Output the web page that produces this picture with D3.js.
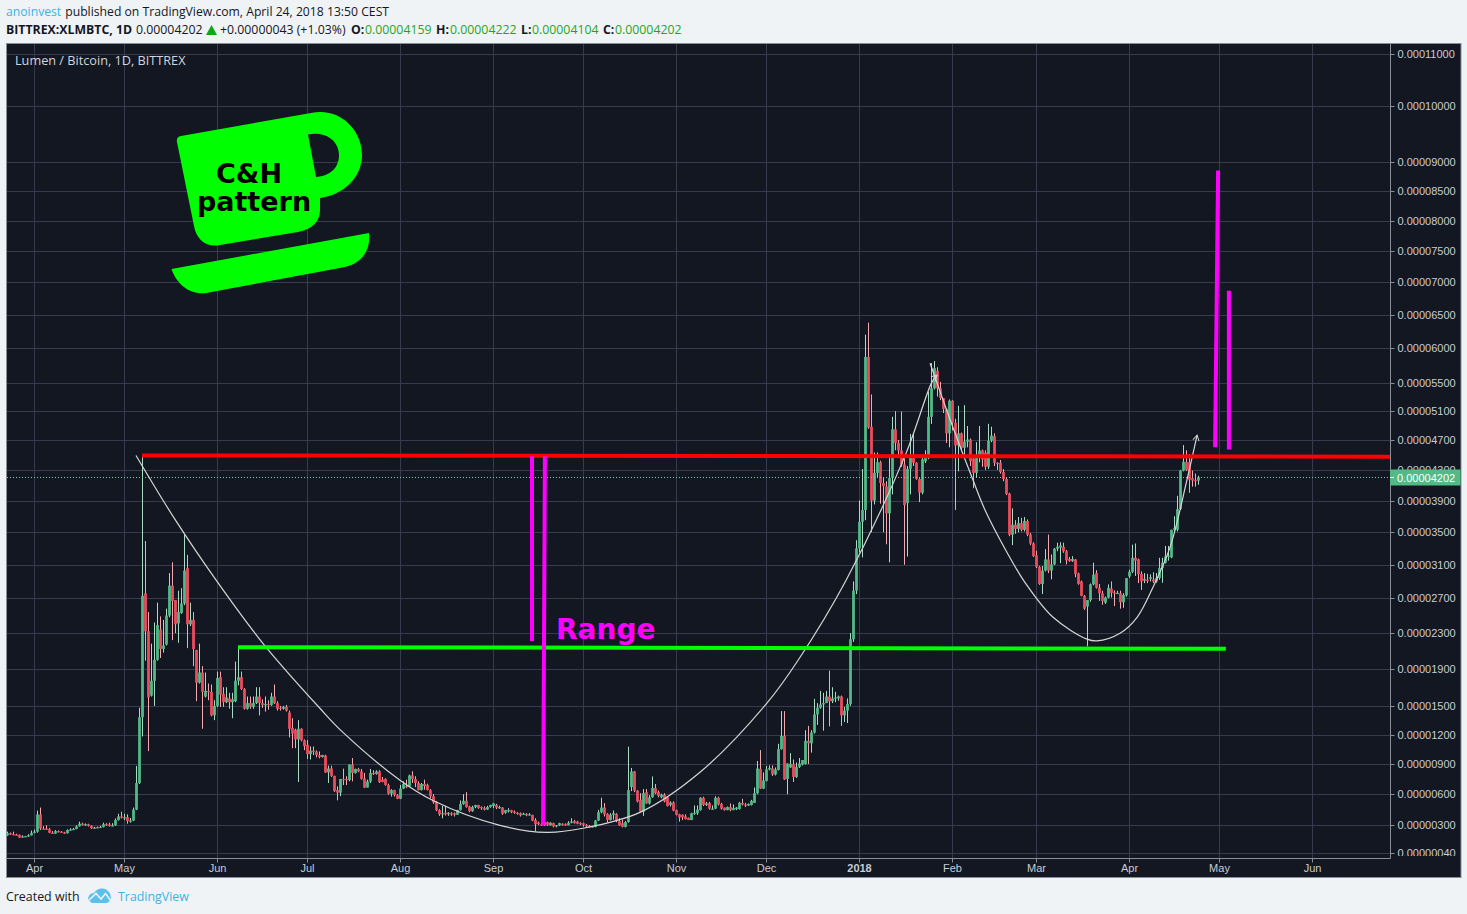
<!DOCTYPE html>
<html>
<head>
<meta charset="utf-8">
<title>Lumen / Bitcoin, 1D, BITTREX</title>
<script src="https://cdn.jsdelivr.net/npm/d3@7/dist/d3.min.js"></script>
<style>
html,body{margin:0;padding:0;background:#f0f3f6;overflow:hidden}
svg{display:block}
</style>
</head>
<body>
<svg id="chart" width="1467" height="914"></svg>
<script>
// prices in units of 0.00000001 BTC, one entry per daily bar from 2017-03-23
const opens = [
205,225,218,212,210,185,195,197,205,228,
240,403,270,268,262,230,222,245,240,232,
225,255,260,265,290,315,305,310,295,272,
278,282,285,310,308,295,300,350,385,375,
378,340,345,450,710,1380,2760,2320,1610,1770,
2000,2340,2120,2170,2500,2850,2680,2410,2530,2640,
3060,2400,2450,2110,1750,1860,1600,1660,1650,1400,
1500,1810,1630,1540,1580,1540,1550,1770,1810,1680,
1470,1530,1490,1530,1600,1530,1515,1520,1510,1600,
1530,1480,1470,1490,1430,1270,1250,1150,1260,1140,
1095,1000,1035,1025,990,970,985,815,855,780,
640,615,750,750,740,895,810,850,825,755,
665,725,810,800,825,745,750,690,605,640,
590,555,655,680,675,785,750,710,640,700,
690,640,580,525,445,405,420,405,415,415,
400,445,505,535,480,435,475,495,475,465,
450,475,485,495,465,470,420,440,445,430,
420,415,405,410,400,400,350,325,310,300,
330,300,320,290,300,315,310,300,325,340,
335,320,320,305,295,290,285,345,425,470,
410,350,400,410,340,320,285,330,670,825,
635,545,430,620,510,570,660,620,570,595,
570,495,520,445,405,400,385,370,350,415,
415,445,565,495,515,455,460,565,505,470,
445,475,445,455,455,515,500,490,495,515,
610,850,655,730,845,855,795,840,1050,1185,
750,865,900,770,870,895,900,1135,1110,1220,
1410,1480,1515,1530,1600,1550,1580,1580,1600,1400,
1450,1520,2230,2790,3300,3630,3780,5870,4880,3900,
4260,4400,4127,4082,3737,4193,4845,4660,4558,4370,
3870,4313,4460,4393,4180,4002,4415,4460,5017,5417,
5667,5417,5280,5128,4790,5242,4935,4625,4790,4593,
4677,4705,4450,4260,4460,4558,4527,4340,4690,4750,
4393,4393,4270,4180,3990,3468,3592,3542,3613,3530,
3640,3470,3360,3215,3075,2870,3030,3165,3030,3105,
3295,3310,3320,3265,3170,3145,3165,2995,2900,2730,
2605,2680,2865,3000,2825,2760,2650,2710,2815,2770,
2760,2760,2655,2735,2960,3015,3185,3165,2990,2910,
2920,2930,2925,2900,2940,3060,3125,3200,3190,3530,
3530,3790,4290,4405,4400,4190,4165,4159];
const highs = [
240,232,240,220,212,205,200,215,250,260,
440,470,290,300,275,245,255,252,245,238,
262,272,275,300,335,325,318,315,300,285,
288,295,325,320,325,320,365,410,430,410,
405,370,470,880,1480,4500,3390,2540,2180,2420,
2650,2490,2450,2580,3000,3130,2680,2790,2820,3470,
3220,2650,2540,2110,2180,1930,1860,1740,1730,1560,
1870,1870,1700,1700,1640,1640,1980,2130,1870,1690,
1600,1600,1600,1700,1700,1570,1600,1560,1640,1730,
1550,1500,1500,1510,1450,1370,1260,1350,1265,1150,
1143,1077,1077,1037,1027,993,993,883,883,783,
677,750,853,777,895,960,853,860,850,810,
743,850,837,837,837,770,757,703,650,643,
600,690,727,743,793,827,777,727,710,743,
703,650,600,535,455,487,487,426,426,423,
448,539,600,620,487,487,497,497,481,481,
487,497,513,506,487,474,448,464,448,442,
426,423,420,416,416,400,367,335,325,332,
335,329,325,303,325,319,319,339,367,351,
342,329,325,313,303,294,351,448,565,513,
416,416,442,416,367,351,340,1075,860,830,
640,610,650,650,590,775,700,635,605,610,
575,530,530,450,410,405,405,375,420,490,
490,570,575,525,525,490,580,575,515,470,
480,510,500,475,525,555,515,510,545,665,
930,1040,815,880,885,885,865,1105,1445,1445,
905,1010,945,915,960,940,1245,1290,1245,1575,
1530,1660,1640,1660,1880,1700,1650,1610,1610,1490,
1580,2300,2900,3400,3900,4310,6200,6380,5330,4530,
4530,4420,4200,4150,4460,5017,5095,4700,5090,4450,
4350,4780,4790,4400,4190,4500,4560,5370,5780,5810,
5720,5510,5280,5130,5260,5250,4990,5170,4800,5180,
4890,4720,4480,4670,4890,4570,4560,4920,4880,4790,
4400,4430,4310,4200,4000,3800,3650,3690,3680,3690,
3660,3490,3375,3270,3085,3085,3290,3470,3225,3305,
3370,3375,3370,3280,3195,3205,3170,3005,2910,2740,
2680,2875,3125,3035,2870,2790,2720,2865,2900,2795,
2790,2790,2760,2940,3040,3345,3360,3175,3020,3000,
2990,2985,3010,3000,3185,3185,3330,3330,3530,3700,
3960,4300,4630,4560,4510,4290,4250,4222];
const lows = [
200,210,205,205,180,183,190,190,203,225,
230,255,260,255,225,218,220,232,228,220,
222,250,255,262,288,298,295,288,265,268,
272,278,280,295,288,290,295,345,365,350,
315,325,340,445,700,1180,1990,1030,1600,1500,
1990,2020,2080,2160,2480,2220,2300,2190,2520,2620,
2130,2380,1930,1550,1740,1260,1590,1560,1390,1350,
1490,1490,1490,1530,1470,1370,1540,1720,1670,1460,
1460,1470,1470,1520,1400,1480,1440,1460,1500,1520,
1450,1450,1460,1440,1170,1060,1060,720,1130,1040,
950,945,990,967,957,965,810,710,770,623,
540,580,690,690,727,727,803,817,743,660,
665,710,790,793,710,717,683,594,577,577,
552,552,650,660,670,710,670,637,637,643,
637,561,506,435,390,367,393,390,390,384,
400,442,497,468,426,429,464,458,448,442,
448,468,464,455,458,400,410,423,416,410,
400,384,400,387,393,339,245,303,294,294,
294,297,281,281,294,297,294,300,319,316,
310,303,287,281,277,277,281,342,416,384,
329,345,355,329,294,280,280,325,630,620,
520,430,390,505,500,565,600,570,560,520,
480,480,435,395,335,350,355,350,350,400,
400,440,485,485,450,450,455,490,450,440,
445,435,445,445,450,490,475,485,490,515,
600,650,650,725,835,780,785,835,1045,740,
600,860,720,760,860,885,895,900,1015,1210,
1300,1470,1240,1530,1285,1530,1540,1555,1290,1330,
1320,1500,2200,2750,3250,3190,3650,4850,3500,3850,
4200,3860,3500,3350,3130,3980,4560,4500,4340,3100,
3200,3980,4350,4170,3880,3980,4390,4440,4920,5400,
5300,5250,5070,4660,4600,4830,3780,4280,4560,4500,
4600,4350,4060,4200,4400,4340,4300,4310,4670,4350,
4300,4250,4150,3970,3450,3340,3480,3500,3510,3510,
3450,3340,3195,3060,2860,2750,3020,3000,2925,3095,
3265,3120,3245,3105,3135,3135,2950,2860,2725,2565,
2150,2660,2855,2815,2670,2625,2635,2700,2710,2610,
2750,2580,2590,2720,2940,3000,2965,2880,2800,2880,
2880,2900,2880,2885,2920,2885,3115,3150,3180,3510,
3510,3780,4280,4285,4000,4080,4080,4104];
const closes = [
225,218,212,210,185,195,197,205,228,240,
403,270,268,262,230,222,245,240,232,225,
255,260,265,290,315,305,310,295,272,278,
282,285,310,308,295,300,350,385,375,378,
340,345,450,710,1380,2730,2320,1590,1770,2000,
2390,2120,2160,2500,2850,2670,2400,2540,2640,3030,
2400,2450,2120,1750,1860,1650,1660,1650,1400,1500,
1800,1620,1540,1590,1540,1570,1770,1810,1680,1470,
1530,1490,1530,1600,1530,1510,1520,1510,1600,1530,
1470,1470,1490,1450,1260,1210,1150,1260,1140,1080,
1000,1035,1025,990,970,990,815,855,780,630,
615,750,745,745,895,810,850,825,750,665,
725,810,800,825,720,720,690,605,640,590,
555,655,700,670,785,750,710,640,700,680,
640,580,520,445,405,415,405,420,405,400,
445,505,535,475,435,475,495,465,465,450,
475,495,510,470,475,410,445,445,425,420,
410,395,412,395,405,345,310,310,300,330,
305,325,290,300,320,305,300,325,335,320,
315,310,305,290,280,282,345,425,470,405,
350,400,415,340,300,285,330,640,825,635,
530,430,610,510,570,660,610,585,595,530,
485,520,440,400,375,375,360,350,415,420,
450,565,495,510,460,460,565,500,460,445,
475,445,465,470,515,500,490,505,535,610,
855,655,735,845,860,795,845,1050,1185,745,
905,900,770,870,905,940,1135,1110,1220,1410,
1480,1515,1530,1600,1550,1580,1590,1600,1400,1450,
1520,2230,2790,3300,3630,3780,5870,4870,3900,4260,
4400,4127,4085,3737,4193,4845,4660,4558,4370,3842,
4313,4460,4393,4180,4002,4438,4460,5017,5417,5706,
5417,5280,5128,4790,5242,4935,4625,4790,4593,4677,
4705,4415,4260,4460,4558,4438,4340,4690,4760,4393,
4385,4270,4180,3985,3468,3592,3542,3613,3530,3640,
3470,3360,3205,3075,2870,3030,3165,3030,3105,3295,
3320,3335,3265,3155,3145,3170,2990,2870,2730,2580,
2680,2865,2980,2825,2760,2670,2710,2825,2765,2760,
2765,2655,2740,2940,3015,3185,3150,2985,2900,2930,
2905,2950,2900,2940,3060,3125,3200,3210,3530,3550,
3790,4290,4405,4300,4170,4160,4159,4202];

const firstDay = "2017-03-23";
const lastDay = "2018-04-24";
const priceTicks = [11000,10000,9000,8500,8000,7500,7000,6500,6000,5500,5100,4700,4300,3900,3500,3100,2700,2300,1900,1500,1200,900,600,300,40];
const monthTicks = ["2017-04-01","2017-05-01","2017-06-01","2017-07-01","2017-08-01","2017-09-01","2017-10-01","2017-11-01","2017-12-01","2018-01-01","2018-02-01","2018-03-01","2018-04-01","2018-05-01","2018-06-01"];
const monthLabels = ["Apr","May","Jun","Jul","Aug","Sep","Oct","Nov","Dec","2018","Feb","Mar","Apr","May","Jun"];
const lastPrice = 4202;

// hand drawings on the chart, as [bar number, price]
const leftCup = [[43,4490],[56,3660],[70,2900],[85.3,2184],[104.3,1475],[112,1222],[131,738],[142,539],[164.3,300],[180,233],[192,272],[211,424],[231,817],[253.3,1529],[263.7,1995],[279.7,2915],[299.7,4522],[308.3,5506],[310,5606]];
const rightCup = [[307.7,5779],[315.3,4874],[322,4165],[326,3780],[333.3,3253],[339.3,2890],[348.7,2480],[360,2231],[363.3,2211],[371,2298],[376.7,2480],[382,2832],[387.7,3315],[393.3,4165],[396.7,4765]];
const resistance = [[45,4490],[461.3,4475]];
const support = [[77,2141],[406.3,2122]];
const rangeLines = [[[175,4480],[175,2210]],[[179.3,4480],[178.7,300]]];
const targetLines = [[[402.7,4600],[403.7,8850]],[[407.3,4570],[407.3,6870]]];

const svg = d3.select("#chart");
const plot = {left:7, right:1390, top:44, bottom:858};
const parseDay = d3.utcParse("%Y-%m-%d");
const OFFSET = 10000;

const x = d3.scaleUtc().domain([parseDay(firstDay), parseDay(lastDay)]).range([7,1198]);
const barX = d3.scaleLinear().domain([0, closes.length-1]).range([7,1198]);
const logY = d3.scaleLog().domain([40+OFFSET,11000+OFFSET]).range([853,53.5]);
const y = v => logY(v+OFFSET);
const snap = p => Math.round(p)+.5;

const defs = svg.append("defs");
defs.append("clipPath").attr("id","plotClip").append("rect")
  .attr("x",plot.left).attr("y",plot.top).attr("width",plot.right-plot.left).attr("height",plot.bottom-plot.top);
defs.append("clipPath").attr("id","scaleClip").append("rect")
  .attr("x",plot.right).attr("y",plot.top).attr("width",72).attr("height",plot.bottom-plot.top-2);
defs.append("marker").attr("id","arrow").attr("viewBox","-8 -5 10 10").attr("refX",0).attr("refY",0)
  .attr("markerWidth",9).attr("markerHeight",9).attr("markerUnits","userSpaceOnUse").attr("orient","auto")
  .append("path").attr("d","M-6,-3.5L0,0L-6,3.5").attr("fill","none").attr("stroke","#d6d6d6").attr("stroke-width",1.1);

// header
const sansHead = "'Open Sans','Noto Sans',sans-serif";
const head1 = svg.append("text").attr("x",6).attr("y",16).attr("font-family",sansHead).attr("font-size",12.2).attr("fill","#131722");
head1.append("tspan").attr("fill","#3bb3e4").text("anoinvest");
head1.append("tspan").attr("dx",4).text("published on TradingView.com, April 24, 2018 13:50 CEST");
const headItems = [
  {t:"BITTREX:XLMBTC, 1D",x:6,b:1,c:"#131722"},
  {t:"0.00004202",x:136,c:"#131722"},
  {t:"+0.00000043 (+1.03%)",x:220,c:"#131722"},
  {t:"O:",x:351,b:1,c:"#131722"},{t:"0.00004159",x:365,c:"#1ea51e"},
  {t:"H:",x:436,b:1,c:"#131722"},{t:"0.00004222",x:450,c:"#1ea51e"},
  {t:"L:",x:521,b:1,c:"#131722"},{t:"0.00004104",x:532,c:"#1ea51e"},
  {t:"C:",x:603,b:1,c:"#131722"},{t:"0.00004202",x:615,c:"#1ea51e"}];
svg.append("g").selectAll("text").data(headItems).join("text")
  .attr("x",d=>d.x).attr("y",34).attr("font-family",sansHead).attr("font-size",12.3)
  .attr("font-weight",d=>d.b?700:400).attr("fill",d=>d.c).text(d=>d.t);
svg.append("path").attr("d","M206,35L211.5,25L217,35Z").attr("fill","#0fa80f");

// chart frame
svg.append("rect").attr("x",6.5).attr("y",43.5).attr("width",1454.5).attr("height",834)
  .attr("fill","#131722").attr("stroke","#8a8e96").attr("stroke-width",1);

// grid
const grid = svg.append("g").attr("clip-path","url(#plotClip)").attr("stroke","#363c4e").attr("stroke-width",1);
grid.selectAll("line.h").data(priceTicks).join("line").attr("class","h")
  .attr("x1",plot.left).attr("x2",plot.right)
  .attr("y1",d=>snap(y(d))).attr("y2",d=>snap(y(d)));
grid.selectAll("line.v").data(monthTicks).join("line").attr("class","v")
  .attr("y1",plot.top).attr("y2",plot.bottom)
  .attr("x1",d=>snap(x(parseDay(d)))).attr("x2",d=>snap(x(parseDay(d))));

// title
svg.append("text").attr("x",15).attr("y",65).attr("font-family",sansHead).attr("font-size",12.7)
  .attr("fill","#d1d4dc").text("Lumen / Bitcoin, 1D, BITTREX");

// candles
const bars = d3.range(closes.length);
const up = i => closes[i] >= opens[i];
const candles = svg.append("g").attr("clip-path","url(#plotClip)");
candles.selectAll("line").data(bars).join("line")
  .attr("x1",i=>barX(i)+.5).attr("x2",i=>barX(i)+.5)
  .attr("y1",i=>y(highs[i])).attr("y2",i=>y(lows[i]))
  .attr("stroke",i=>up(i)?"#a9dcc3":"#f7a9b0").attr("stroke-width",1);
candles.selectAll("rect").data(bars).join("rect")
  .attr("x",i=>barX(i)+.5-1.4).attr("width",2.8)
  .attr("y",i=>y(Math.max(opens[i],closes[i])))
  .attr("height",i=>Math.max(1.2,Math.abs(y(opens[i])-y(closes[i]))))
  .attr("fill",i=>up(i)?"#53b987":"#eb4d5c");

// last price line
svg.append("line").attr("x1",plot.left).attr("x2",plot.right).attr("y1",snap(y(lastPrice))).attr("y2",snap(y(lastPrice)))
  .attr("stroke","#7fd0a8").attr("stroke-width",1).attr("stroke-dasharray","1 2");

// drawings
const draw = svg.append("g").attr("clip-path","url(#plotClip)");
const line = d3.line().x(d=>barX(d[0])).y(d=>y(d[1]));
const curve = d3.line().x(d=>barX(d[0])).y(d=>y(d[1])).curve(d3.curveCatmullRom.alpha(0.5));
[leftCup,rightCup].forEach(c=>draw.append("path").attr("d",curve(c)).attr("fill","none")
  .attr("stroke","#d6d6d6").attr("stroke-width",1.2).attr("marker-end","url(#arrow)"));
draw.append("path").attr("d",line(resistance)).attr("stroke","#ff0000").attr("stroke-width",4).attr("fill","none");
draw.append("path").attr("d",line(support)).attr("stroke","#00ff00").attr("stroke-width",4).attr("fill","none");
rangeLines.concat(targetLines).forEach(l=>draw.append("path").attr("d",line(l)).attr("stroke","#ff00ff").attr("stroke-width",4).attr("fill","none"));
draw.append("text").attr("x",556).attr("y",639).attr("font-family","'DejaVu Sans',sans-serif").attr("font-weight",700)
  .attr("font-size",28).attr("fill","#ff00ff").text("Range");

// mug
draw.append("path").attr("fill-rule","evenodd").attr("fill","#00ff00")
  .attr("d","M177,142Q176,137 181,136L311,113C340,107 362,130 362,155C362,178 343,195 320,198L320,210C320,222 312,229 298,232L220,245C205,248 196,238 194,226Z M308,134.5L316,177C330,176 339,168 339,155C339,142 327,131 308,134.5Z");
draw.append("path").attr("fill","#00ff00")
  .attr("d","M171.5,269L369,233C371,250 362,263 345,267L206,293C190,295 177,285 171.5,269Z");
const mug = draw.append("g").attr("font-family","'DejaVu Sans',sans-serif").attr("font-weight",700).attr("font-size",27).attr("fill","#000").attr("text-anchor","middle");
mug.append("text").attr("x",249).attr("y",182.5).text("C&H");
mug.append("text").attr("x",254).attr("y",211).text("pattern");

// price axis
const yAxisClip = svg.append("g").attr("clip-path","url(#scaleClip)");
const yAxis = yAxisClip.append("g").attr("transform",`translate(${plot.right+.5},0)`);
yAxis.call(d3.axisRight(logY).tickValues(priceTicks.map(v=>v+OFFSET))
  .tickSize(4).tickPadding(3).tickFormat(d=>((d-OFFSET)*1e-8).toFixed(8)));
yAxis.selectAll(".tick").attr("transform",d=>`translate(0,${snap(logY(d))})`);
yAxis.select(".domain").remove();
yAxis.selectAll("line").attr("stroke","#8a8e96");
yAxis.selectAll("text").attr("font-family","'Liberation Sans',Arial,sans-serif").attr("font-size",11).attr("fill","#c9ccd3");
svg.append("line").attr("x1",plot.right+.5).attr("x2",plot.right+.5).attr("y1",44).attr("y2",plot.bottom+.5).attr("stroke","#8a8e96");
svg.append("line").attr("x1",7).attr("x2",plot.right+.5).attr("y1",plot.bottom+.5).attr("y2",plot.bottom+.5).attr("stroke","#8a8e96");

// time axis
const monthDates = monthTicks.map(parseDay);
const xAxis = svg.append("g").attr("transform",`translate(0,${plot.bottom+.5})`);
xAxis.call(d3.axisBottom(x).tickValues(monthDates).tickSize(4).tickPadding(2)
  .tickFormat((d,i)=>monthLabels[i]));
xAxis.select(".domain").remove();
xAxis.selectAll(".tick").attr("transform",d=>`translate(${snap(x(d))},0)`);
xAxis.selectAll("line").attr("stroke","#8a8e96");
xAxis.selectAll("text").attr("font-family","'Liberation Sans',Arial,sans-serif").attr("font-size",11)
  .attr("fill","#c9ccd3").attr("font-weight",(d,i)=>monthLabels[i]==="2018"?700:400);

// last price tag
svg.append("rect").attr("x",plot.right).attr("y",snap(y(lastPrice))-8).attr("width",70.5).attr("height",16).attr("fill","#53b987");
svg.append("text").attr("x",plot.right+7).attr("y",snap(y(lastPrice))+4).attr("font-family","'Liberation Sans',Arial,sans-serif")
  .attr("font-size",11).attr("fill","#ffffff").text((lastPrice*1e-8).toFixed(8));
svg.append("line").attr("x1",plot.right).attr("x2",plot.right+4).attr("y1",snap(y(lastPrice))).attr("y2",snap(y(lastPrice))).attr("stroke","#fff");

// footer
svg.append("text").attr("x",6).attr("y",901).attr("font-family",sansHead).attr("font-size",12.4).attr("fill","#131722").text("Created with");
svg.append("path").attr("fill","#5bc0ec")
  .attr("d","M88,900C88,896 90,893 94,893C96,889 104,886 108,891C111,893 111,898 111,900L107,903L92,903Z");
svg.append("path").attr("fill","none").attr("stroke","#f0f3f6").attr("stroke-width",1.6)
  .attr("d","M88,901L96,893.5L101,899L105.5,893.5L111,901");
svg.append("text").attr("x",118).attr("y",901).attr("font-family",sansHead).attr("font-size",12.4).attr("fill","#3bb3e4").text("TradingView");
</script>
</body>
</html>
